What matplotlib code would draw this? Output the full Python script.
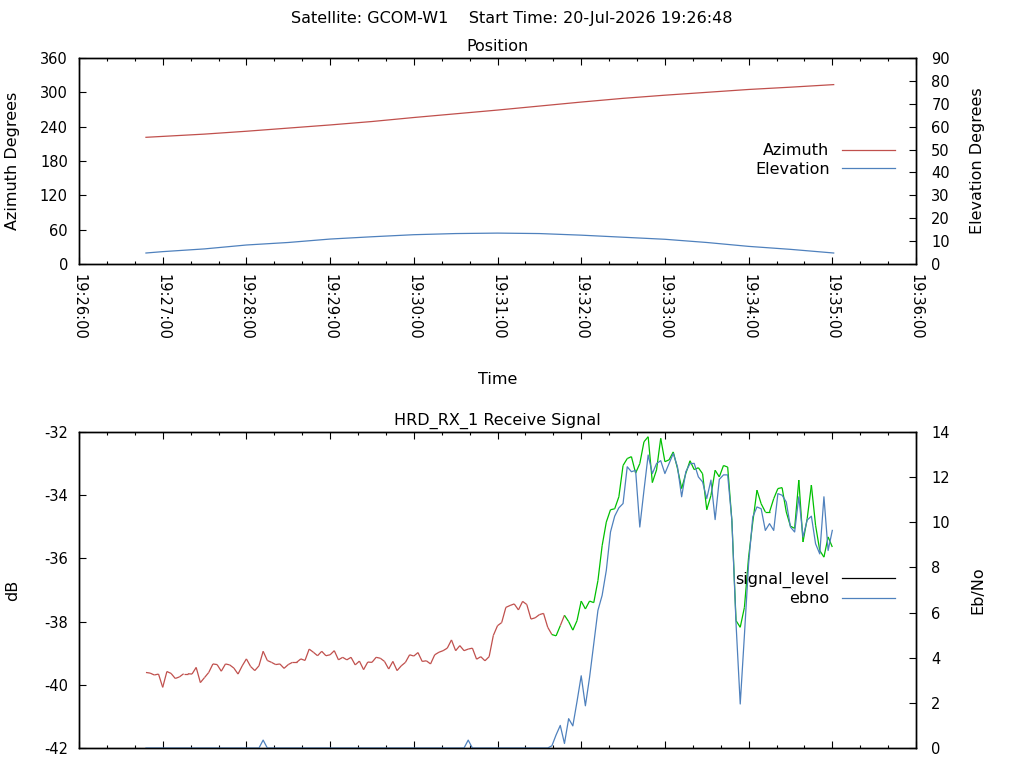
import datetime as dt
import numpy as np
import matplotlib
matplotlib.use("Agg")
import matplotlib.pyplot as plt
import matplotlib.dates as mdates
from matplotlib.collections import LineCollection
from matplotlib.lines import Line2D

START = dt.datetime(2026, 7, 20, 19, 26, 0)
TITLE = "Satellite: GCOM-W1    Start Time: 20-Jul-2026 19:26:48"

# pass geometry, seconds after 19:26:00
pos_sec = [48, 60, 90, 120, 150, 180, 210, 240, 270, 300, 330, 360, 390, 420, 450, 480, 510, 541]
azimuth = [221.4, 223.0, 227.0, 232.0, 237.5, 243.0, 249.0, 256.0, 262.5, 269.0,
           276.0, 283.0, 289.5, 295.0, 300.0, 305.0, 309.0, 313.5]
elevation = [4.8, 5.4, 6.6, 8.3, 9.4, 10.9, 11.9, 12.8, 13.3, 13.5,
             13.3, 12.6, 11.7, 10.8, 9.4, 7.7, 6.4, 4.8]

# receiver samples, every 3 s from 19:26:48
SIG_START_SEC = 48
SIG_STEP_SEC = 3
signal_level = [
    -39.61, -39.63, -39.69, -39.66, -40.08, -39.58, -39.64, -39.80, -39.75, -39.65,
    -39.65, -39.66, -39.45, -39.93, -39.77, -39.61, -39.34, -39.36, -39.57, -39.34,
    -39.37, -39.47, -39.66, -39.40, -39.18, -39.42, -39.55, -39.40, -38.94, -39.23,
    -39.29, -39.36, -39.34, -39.48, -39.36, -39.29, -39.29, -39.18, -39.23, -38.87,
    -38.97, -39.08, -38.94, -39.08, -39.05, -38.92, -39.21, -39.13, -39.21, -39.13,
    -39.37, -39.25, -39.52, -39.28, -39.29, -39.13, -39.16, -39.26, -39.50, -39.26,
    -39.55, -39.40, -39.29, -39.05, -39.09, -38.98, -39.26, -39.24, -39.34, -39.05,
    -38.97, -38.92, -38.84, -38.58, -38.92, -38.76, -38.92, -38.87, -38.84, -39.19,
    -39.11, -39.24, -39.11, -38.44, -38.13, -38.03, -37.55, -37.49, -37.44, -37.63,
    -37.36, -37.46, -37.92, -37.88, -37.78, -37.74, -38.18, -38.41, -38.45, -38.13,
    -37.80, -38.00, -38.27, -37.97, -37.35, -37.60, -37.35, -37.40, -36.70, -35.60,
    -34.85, -34.46, -34.43, -34.05, -33.06, -32.84, -32.78, -33.30, -33.00, -32.31,
    -32.15, -33.60, -33.20, -32.20, -32.94, -32.88, -32.63, -33.15, -33.79, -33.31,
    -32.91, -33.19, -33.13, -33.32, -34.46, -34.01, -33.21, -33.42, -33.06, -33.11,
    -34.79, -37.97, -38.18, -37.55, -35.96, -34.85, -33.84, -34.27, -34.53, -34.53,
    -34.11, -33.79, -33.76, -34.53, -34.98, -35.05, -33.52, -35.48, -34.74, -33.68,
    -34.95, -35.75, -35.96, -35.32, -35.64,
]
ebno = [
    0.0, 0.0, 0.0, 0.0, 0.0, 0.0, 0.0, 0.0, 0.0, 0.0,
    0.0, 0.0, 0.0, 0.0, 0.0, 0.0, 0.0, 0.0, 0.0, 0.0,
    0.0, 0.0, 0.0, 0.0, 0.0, 0.0, 0.0, 0.0, 0.35, 0.0,
    0.0, 0.0, 0.0, 0.0, 0.0, 0.0, 0.0, 0.0, 0.0, 0.0,
    0.0, 0.0, 0.0, 0.0, 0.0, 0.0, 0.0, 0.0, 0.0, 0.0,
    0.0, 0.0, 0.0, 0.0, 0.0, 0.0, 0.0, 0.0, 0.0, 0.0,
    0.0, 0.0, 0.0, 0.0, 0.0, 0.0, 0.0, 0.0, 0.0, 0.0,
    0.0, 0.0, 0.0, 0.0, 0.0, 0.0, 0.0, 0.35, 0.0, 0.0,
    0.0, 0.0, 0.0, 0.0, 0.0, 0.0, 0.0, 0.0, 0.0, 0.0,
    0.0, 0.0, 0.0, 0.0, 0.0, 0.0, 0.0, 0.1, 0.58, 1.0,
    0.2, 1.3, 0.98, 2.06, 3.2, 1.87, 3.13, 4.6, 6.1, 6.76,
    7.87, 9.57, 10.27, 10.64, 10.83, 12.46, 12.24, 12.3, 9.79, 11.42,
    12.98, 12.16, 12.6, 12.73, 12.16, 12.6, 13.05, 12.46, 11.13, 12.24,
    12.6, 12.61, 12.01, 11.79, 11.05, 11.87, 10.12, 11.9, 12.1, 12.1,
    10.09, 5.5, 1.95, 5.0, 8.16, 10.24, 10.68, 10.6, 9.64, 9.94,
    9.64, 11.27, 11.2, 10.9, 9.79, 9.57, 11.13, 9.35, 10.1, 10.27,
    9.05, 8.6, 11.13, 8.75, 9.64,
]
LOCK_EBNO = 0.5

RED = "#c0504d"
BLUE = "#4f81bd"
GREEN = "#00c000"
FS = 11.5      # titles, labels, legend
TICK_FS = 10.5

pos_time = [START + dt.timedelta(seconds=s) for s in pos_sec]
sig_time = [START + dt.timedelta(seconds=SIG_START_SEC + SIG_STEP_SEC * i)
            for i in range(len(signal_level))]

plt.rcParams["font.family"] = ["DejaVu Sans"]
plt.rcParams["axes.unicode_minus"] = False
fig = plt.figure(figsize=(10.24, 7.68), dpi=100)
fig.text(0.5, 1 - 18 / 768, TITLE, ha="center", va="center", fontsize=FS)

ax1 = fig.add_axes([79 / 1024, 1 - 264 / 768, 837 / 1024, 206 / 768])
ax1b = ax1.twinx()
ax2 = fig.add_axes([79 / 1024, 1 - 748 / 768, 837 / 1024, 316 / 768])
ax2b = ax2.twinx()

# ---- position ----
ax1.plot(pos_time, azimuth, color=RED, lw=0.9)
ax1b.plot(pos_time, elevation, color=BLUE, lw=0.9)
ax1.set_ylim(0, 360)
ax1.set_yticks(np.arange(0, 361, 60))
ax1b.set_ylim(0, 90)
ax1b.set_yticks(np.arange(0, 91, 10))
ax1.set_title("Position", fontsize=FS, pad=5)
ax1.set_ylabel("Azimuth Degrees", fontsize=FS)
ax1b.set_ylabel("Elevation Degrees", fontsize=FS)
ax1.set_xlabel("Time", fontsize=FS)
ax1.xaxis.set_label_coords(0.5, -0.525)
ax1.yaxis.set_label_coords(-0.0705, 0.5)
ax1b.yaxis.set_label_coords(1.0645, 0.5)

h1 = [Line2D([], [], color=RED, lw=0.9), Line2D([], [], color=BLUE, lw=0.9)]
ax1b.legend(h1, ["Azimuth", "Elevation"], loc="center right",
            bbox_to_anchor=(0.975, 0.505), frameon=False, markerfirst=False,
            handlelength=3.3, handletextpad=0.8, labelspacing=0.2,
            borderpad=0, borderaxespad=0, fontsize=FS)

# ---- receive signal ----
xs = mdates.date2num(sig_time)
sig = np.array(signal_level)
eb = np.array(ebno)
locked = eb > LOCK_EBNO
pts = np.column_stack([xs, sig])
segs = np.stack([pts[:-1], pts[1:]], axis=1)
seg_colors = np.where(locked[1:], GREEN, RED)
ax2.add_collection(LineCollection(segs, colors=seg_colors, linewidths=0.9))
ax2b.plot(sig_time, ebno, color=BLUE, lw=0.9)

ax2.set_ylim(-42, -32)
ax2.set_yticks(np.arange(-42, -31, 2))
ax2b.set_ylim(0, 14)
ax2b.set_yticks(np.arange(0, 15, 2))
ax2.set_title("HRD_RX_1 Receive Signal", fontsize=FS, pad=5)
ax2.set_ylabel("dB", fontsize=FS)
ax2b.set_ylabel("Eb/No", fontsize=FS)
ax2.yaxis.set_label_coords(-0.0705, 0.5)
ax2b.yaxis.set_label_coords(1.0645, 0.5)

h2 = [Line2D([], [], color="black", lw=0.9), Line2D([], [], color=BLUE, lw=0.9)]
ax2b.legend(h2, ["signal_level", "ebno"], loc="center right",
            bbox_to_anchor=(0.975, 0.503), frameon=False, markerfirst=False,
            handlelength=3.3, handletextpad=0.8, labelspacing=0.2,
            borderpad=0, borderaxespad=0, fontsize=FS)

# ---- shared axis styling ----
for ax in (ax1, ax2):
    ax.set_xlim(START, START + dt.timedelta(minutes=10))
    ax.xaxis.set_major_locator(mdates.MinuteLocator())
    ax.xaxis.set_minor_locator(mdates.SecondLocator(bysecond=[20, 40]))
    ax.xaxis.set_major_formatter(mdates.DateFormatter("%H:%M:%S"))
    ax.tick_params(axis="x", which="both", direction="in", top=True, bottom=True)
    ax.tick_params(axis="y", which="major", direction="in", pad=8)
for ax in (ax1b, ax2b):
    ax.tick_params(axis="y", which="major", direction="in", pad=11)
for ax in (ax1, ax1b, ax2, ax2b):
    ax.tick_params(which="major", length=4.7, width=0.8, labelsize=TICK_FS)
    ax.tick_params(which="minor", length=2.4, width=0.8)
    for sp in ax.spines.values():
        sp.set_linewidth(1.0)

ax1.tick_params(axis="x", labelrotation=-90, pad=7)
ax2.tick_params(axis="x", labelbottom=False)

fig.savefig("out.png", dpi=100)
